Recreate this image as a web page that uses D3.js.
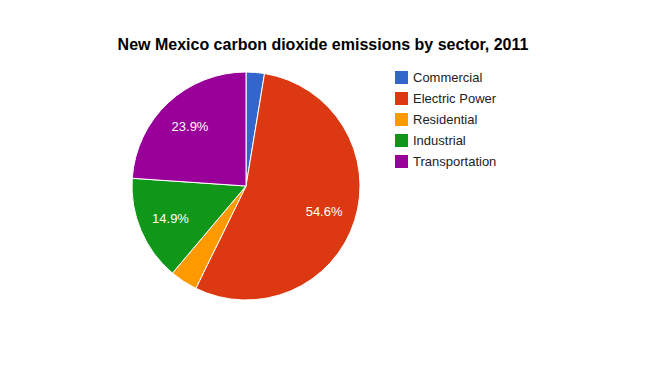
<!DOCTYPE html>
<meta charset="utf-8">
<script src="https://d3js.org/d3.v7.min.js"></script>
<style>
  body { margin: 0; background: #fff; }
  text { font-family: Arial, "Liberation Sans", sans-serif; }
</style>
<div id="chart"></div>
<script>
var title = "New Mexico carbon dioxide emissions by sector, 2011";
var sectors = ["Commercial", "Electric Power", "Residential", "Industrial", "Transportation"];
var shares = [2.6, 54.6, 3.9, 14.9, 23.9];
var colors = ["#3366cc", "#dc3912", "#ff9900", "#109618", "#990099"];

var width = 650, height = 371;
var cx = 246, cy = 186, radius = 114;

var svg = d3.select("#chart").append("svg")
    .attr("width", width)
    .attr("height", height);

svg.append("text")
  .attr("x", 323)
  .attr("y", 50)
  .attr("text-anchor", "middle")
  .style("font-size", "16px")
  .style("font-weight", "bold")
  .text(title);

var data = sectors.map(function(s, i) { return {name: s, value: shares[i], color: colors[i]}; });

var pie = d3.pie().sort(null).value(function(d) { return d.value; });
var arc = d3.arc().innerRadius(0).outerRadius(radius);
var labelArc = d3.arc().innerRadius(82).outerRadius(82);

var g = svg.append("g").attr("transform", "translate(" + cx + "," + cy + ")");

g.selectAll("path")
  .data(pie(data))
  .enter().append("path")
    .attr("d", arc)
    .attr("fill", function(d) { return d.data.color; })
    .attr("stroke", "#fff")
    .attr("stroke-width", 1);

// only slices big enough get a label
g.selectAll("text.pct")
  .data(pie(data).filter(function(d) { return d.data.value > 10; }))
  .enter().append("text")
    .attr("class", "pct")
    .attr("transform", function(d) { return "translate(" + labelArc.centroid(d) + ")"; })
    .attr("dy", "0.35em")
    .attr("text-anchor", "middle")
    .style("font-size", "13px")
    .style("fill", "#fff")
    .text(function(d) { return d.data.value.toFixed(1) + "%"; });

// legend
var legend = svg.append("g").attr("transform", "translate(395,71)");
var item = legend.selectAll("g")
  .data(data)
  .enter().append("g")
    .attr("transform", function(d, i) { return "translate(0," + (i * 21) + ")"; });

item.append("rect")
  .attr("width", 13)
  .attr("height", 13)
  .attr("fill", function(d) { return d.color; });

item.append("text")
  .attr("x", 18)
  .attr("y", 6.5)
  .attr("dy", "0.35em")
  .style("font-size", "13px")
  .style("fill", "#222")
  .text(function(d) { return d.name; });
</script>
